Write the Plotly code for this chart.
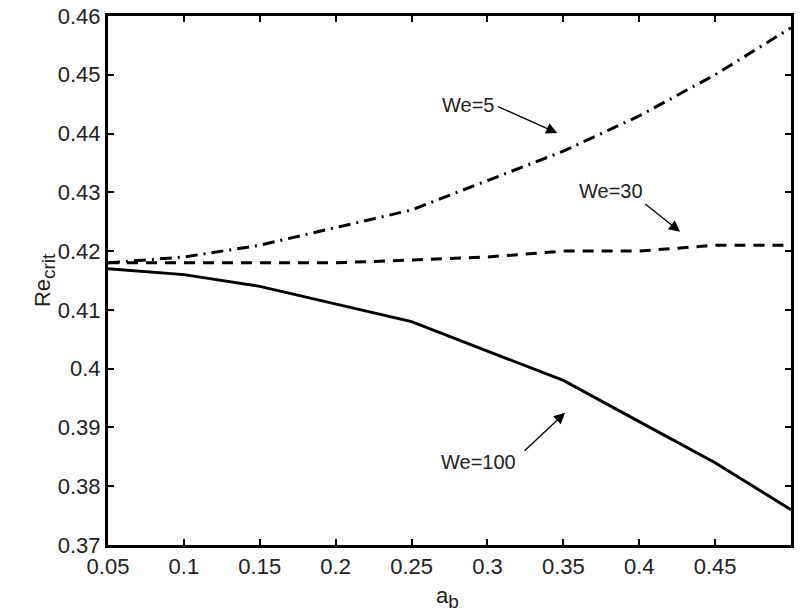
import plotly.graph_objects as go

a_b = [0.05, 0.10, 0.15, 0.20, 0.25, 0.30, 0.35, 0.40, 0.45, 0.50]
re_we5 = [0.418, 0.419, 0.421, 0.424, 0.427, 0.432, 0.437, 0.443, 0.450, 0.458]
re_we30 = [0.418, 0.418, 0.418, 0.418, 0.4185, 0.419, 0.420, 0.420, 0.421, 0.421]
re_we100 = [0.417, 0.416, 0.414, 0.411, 0.408, 0.403, 0.398, 0.391, 0.384, 0.376]

x_ticks = [0.05, 0.1, 0.15, 0.2, 0.25, 0.3, 0.35, 0.4, 0.45]
x_tick_labels = ["0.05", "0.1", "0.15", "0.2", "0.25", "0.3", "0.35", "0.4", "0.45"]
y_ticks = [0.37, 0.38, 0.39, 0.40, 0.41, 0.42, 0.43, 0.44, 0.45, 0.46]
y_tick_labels = ["0.37", "0.38", "0.39", "0.4", "0.41", "0.42", "0.43", "0.44", "0.45", "0.46"]

# annotation: label, text x, text y, arrow tip x, tip y, arrow tail x, tail y
ann_labels = ["We=5", "We=30", "We=100"]
ann_text_x = [0.2872, 0.3815, 0.2938]
ann_text_y = [0.4449, 0.4302, 0.3841]
ann_tip_x = [0.346, 0.4269, 0.3511]
ann_tip_y = [0.4401, 0.4233, 0.3925]
ann_tail_x = [0.306, 0.4030, 0.3235]
ann_tail_y = [0.4447, 0.4282, 0.3858]

fig = go.Figure()
fig.add_trace(go.Scatter(x=a_b, y=re_we5, mode="lines", name="We=5",
                         line=dict(color="black", width=3, dash="12px,6px,2px,6px")))
fig.add_trace(go.Scatter(x=a_b, y=re_we30, mode="lines", name="We=30",
                         line=dict(color="black", width=3, dash="11px,8px")))
fig.add_trace(go.Scatter(x=a_b, y=re_we100, mode="lines", name="We=100",
                         line=dict(color="black", width=3)))

tick_font = dict(family="Liberation Sans, Arial, sans-serif", size=22, color="#222")
ann_font = dict(family="Liberation Sans, Arial, sans-serif", size=20, color="#222")

for i, txt in enumerate(ann_labels):
    fig.add_annotation(x=ann_text_x[i], y=ann_text_y[i], text=txt, showarrow=False,
                       font=ann_font, xref="x", yref="y")
    fig.add_annotation(x=ann_tip_x[i], y=ann_tip_y[i], ax=ann_tail_x[i], ay=ann_tail_y[i],
                       axref="x", ayref="y", xref="x", yref="y", text="", showarrow=True,
                       arrowhead=2, arrowsize=1.7, arrowwidth=1.3, arrowcolor="black")

# axis titles as annotations
fig.add_annotation(x=-0.117, y=0.5, xref="paper", yref="paper",
                   text="Re<sub><span style='font-size:19px'>crit</span></sub>",
                   textangle=-90, showarrow=False, font=tick_font)
fig.add_annotation(x=0.497, y=-0.068, xref="paper", yref="paper", yanchor="top",
                   text="a<sub><span style='font-size:19px'>b</span></sub>",
                   showarrow=False, font=tick_font)

axis_common = dict(showline=True, linecolor="black", linewidth=3, mirror="ticks",
                   ticks="inside", ticklen=6, tickwidth=2, tickcolor="black",
                   showgrid=False, zeroline=False, tickfont=tick_font, automargin=False)

fig.update_layout(
    width=810, height=616,
    margin=dict(l=108, r=19, t=16, b=71, autoexpand=False),
    paper_bgcolor="white", plot_bgcolor="white",
    showlegend=False,
    xaxis=dict(range=[0.05, 0.5], tickvals=x_ticks, ticktext=x_tick_labels, **axis_common),
    yaxis=dict(range=[0.37, 0.46], tickvals=y_ticks, ticktext=y_tick_labels, **axis_common),
)

fig.write_html("out.html", config={"displayModeBar": False},
               post_script="document.body.style.margin='0px';document.body.style.padding='0px';")
